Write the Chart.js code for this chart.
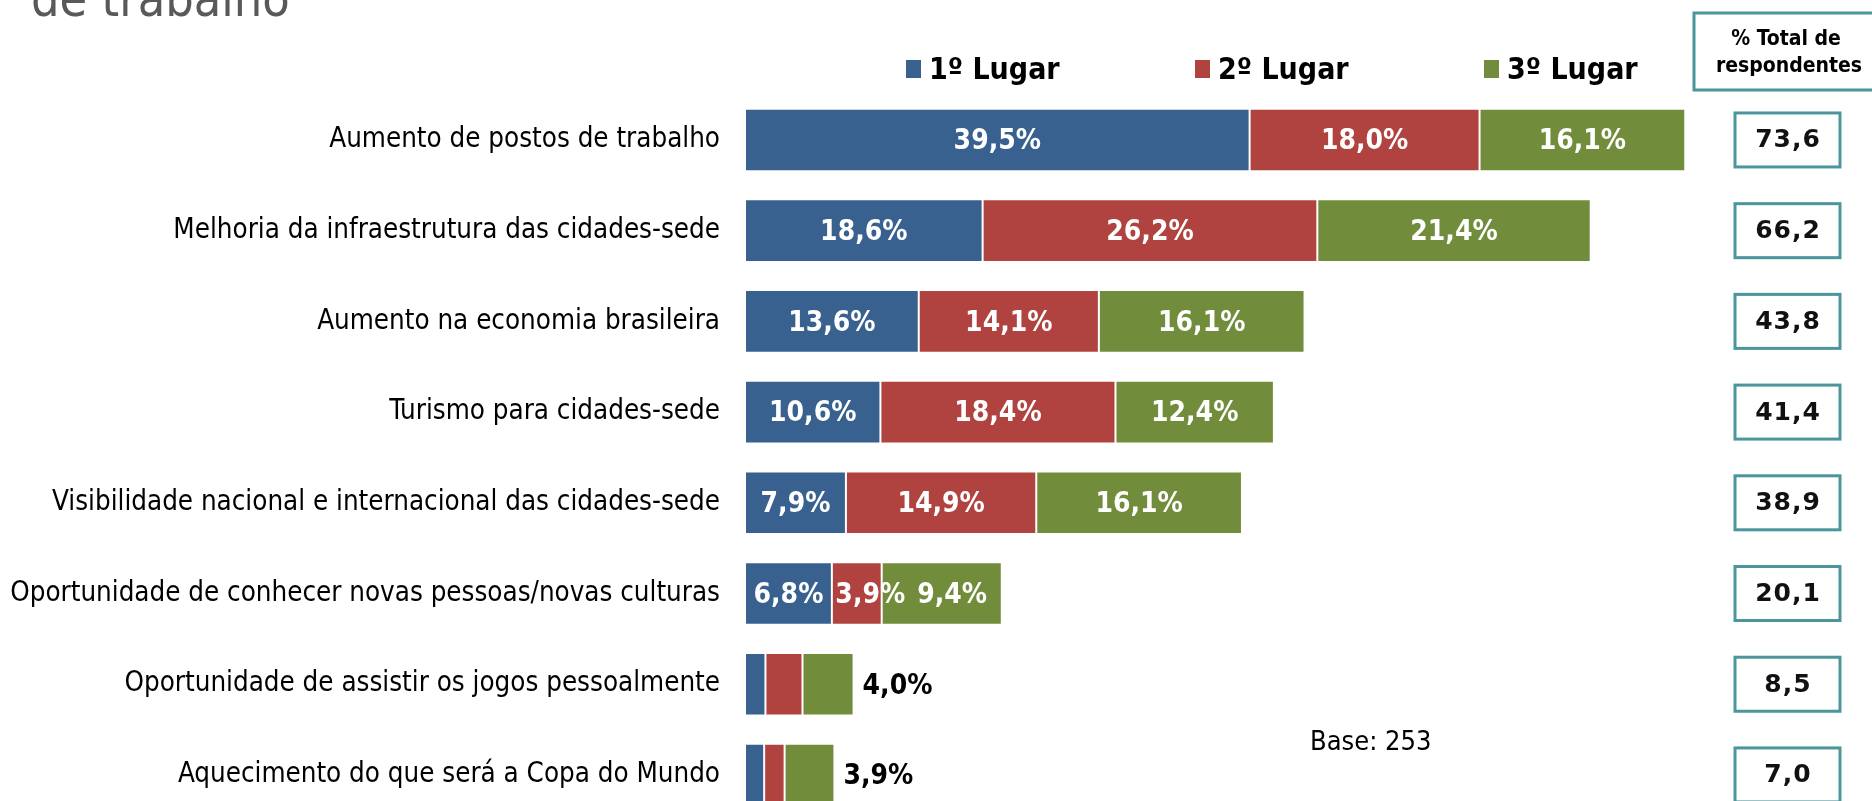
<!DOCTYPE html>
<html>
<head>
<meta charset="utf-8">
<script src="https://cdn.jsdelivr.net/npm/chart.js@4/dist/chart.umd.min.js"></script>
<style>
  html, body { margin: 0; padding: 0; background: #fff; overflow: hidden; }
  #wrap { position: relative; width: 1872px; height: 801px; overflow: hidden; }
  canvas { position: absolute; left: 0; top: 0; }
</style>
</head>
<body>
<div id="wrap">
  <canvas id="chart" width="1872" height="840"></canvas>
</div>
<script>
const categories = [
    'Aumento de postos de trabalho',
    'Melhoria da infraestrutura das cidades-sede',
    'Aumento na economia brasileira',
    'Turismo para cidades-sede',
    'Visibilidade nacional e internacional das cidades-sede',
    'Oportunidade de conhecer novas pessoas/novas culturas',
    'Oportunidade de assistir os jogos pessoalmente',
    'Aquecimento do que será a Copa do Mundo'
]
const seriesNames = ['1º Lugar', '2º Lugar', '3º Lugar']
const primeiro = [39.5, 18.6, 13.6, 10.6, 7.9, 6.8, 1.6, 1.5]
const segundo = [18.0, 26.2, 14.1, 18.4, 14.9, 3.9, 2.9, 1.6]
const terceiro = [16.1, 21.4, 16.1, 12.4, 16.1, 9.4, 4.0, 3.9]
const totals = [73.6, 66.2, 43.8, 41.4, 38.9, 20.1, 8.5, 7.0]
// rows where only the last segment gets a label, drawn outside the bar
const outsideRows = [6, 7]

const colors = ['#386190', '#B0423F', '#718C3B']
const teal = '#4B959B'
const FONT = '"DejaVu Sans Condensed", "DejaVu Sans", sans-serif'

const fmt = v => v.toFixed(1).replace('.', ',')

const extras = {
    id: 'extras',
    afterDatasetsDraw(chart) {
        const ctx = chart.ctx
        const yScale = chart.scales.y
        const nSets = chart.data.datasets.length
        ctx.save()

        // value labels on the segments, pushed right when they would collide
        ctx.font = 'bold 28px ' + FONT
        ctx.textBaseline = 'middle'
        categories.forEach((c, i) => {
            if (outsideRows.includes(i)) {
                const bar = chart.getDatasetMeta(nSets - 1).data[i]
                ctx.fillStyle = '#000'
                ctx.textAlign = 'left'
                ctx.fillText(fmt(chart.data.datasets[nSets - 1].data[i]) + '%', bar.x + 9, bar.y + 2)
                return
            }
            let lastRight = -Infinity
            chart.data.datasets.forEach((ds, di) => {
                const bar = chart.getDatasetMeta(di).data[i]
                const txt = fmt(ds.data[i]) + '%'
                const w = ctx.measureText(txt).width
                let left = (bar.x + bar.base) / 2 - w / 2
                if (left < lastRight + 12) left = lastRight + 12
                ctx.fillStyle = '#fff'
                ctx.textAlign = 'left'
                ctx.fillText(txt, left, bar.y + 2)
                lastRight = left + w
            })
        })

        // legend
        const legendX = [906, 1195, 1484]
        chart.data.datasets.forEach((ds, di) => {
            ctx.fillStyle = ds.backgroundColor
            ctx.fillRect(legendX[di], 60, 15, 18)
            ctx.fillStyle = '#000'
            ctx.font = 'bold 30px ' + FONT
            ctx.textAlign = 'left'
            ctx.textBaseline = 'alphabetic'
            ctx.fillText(ds.label, legendX[di] + 23, 79)
        })

        // % total column
        ctx.strokeStyle = teal
        ctx.lineWidth = 3
        ctx.strokeRect(1694, 13, 200, 77)
        ctx.fillStyle = '#000'
        ctx.font = 'bold 21px ' + FONT
        ctx.textAlign = 'center'
        ctx.fillText('% Total de', 1786, 45)
        ctx.fillText('respondentes', 1789, 72)

        totals.forEach((t, i) => {
            const y = yScale.getPixelForValue(i)
            ctx.strokeStyle = teal
            ctx.lineWidth = 3
            ctx.strokeRect(1735, y - 27, 105, 54)
            ctx.fillStyle = '#111'
            ctx.font = 'bold 25px "DejaVu Sans", sans-serif'
            ctx.letterSpacing = '1px'
            ctx.textAlign = 'center'
            ctx.textBaseline = 'middle'
            ctx.fillText(fmt(t), 1788, y + 1)
            ctx.letterSpacing = '0px'
        })

        // base
        ctx.fillStyle = '#000'
        ctx.font = '27px ' + FONT
        ctx.textAlign = 'left'
        ctx.textBaseline = 'alphabetic'
        ctx.fillText('Base: 253', 1310, 750)

        // title remnant at the top
        ctx.fillStyle = '#595959'
        ctx.font = '50px ' + FONT
        ctx.fillText('de trabalho', 31, 16)

        ctx.restore()
    }
}

new Chart(document.getElementById('chart'), {
    type: 'bar',
    data: {
        labels: categories,
        datasets: [primeiro, segundo, terceiro].map((d, i) => ({
            label: seriesNames[i],
            data: d,
            backgroundColor: colors[i],
            borderColor: 'rgba(255,255,255,0.45)',
            borderWidth: 1,
            borderSkipped: false,
            barPercentage: 0.69,
            categoryPercentage: 1
        }))
    },
    options: {
        indexAxis: 'y',
        responsive: false,
        animation: false,
        layout: {
            padding: { top: 94.6, bottom: 19.7, left: 0, right: 105 }
        },
        scales: {
            x: {
                stacked: true,
                display: false,
                min: 0,
                max: 80
            },
            y: {
                stacked: true,
                grid: { display: false, drawTicks: false },
                border: { display: false },
                ticks: {
                    color: '#000',
                    padding: 25,
                    font: { family: FONT, size: 27.5 }
                },
                afterFit(scale) {
                    scale.width = 745
                    scale.paddingTop = 0
                    scale.paddingBottom = 0
                }
            }
        },
        plugins: {
            legend: { display: false },
            title: { display: false },
            tooltip: { enabled: false }
        }
    },
    plugins: [extras]
})
</script>
</body>
</html>
